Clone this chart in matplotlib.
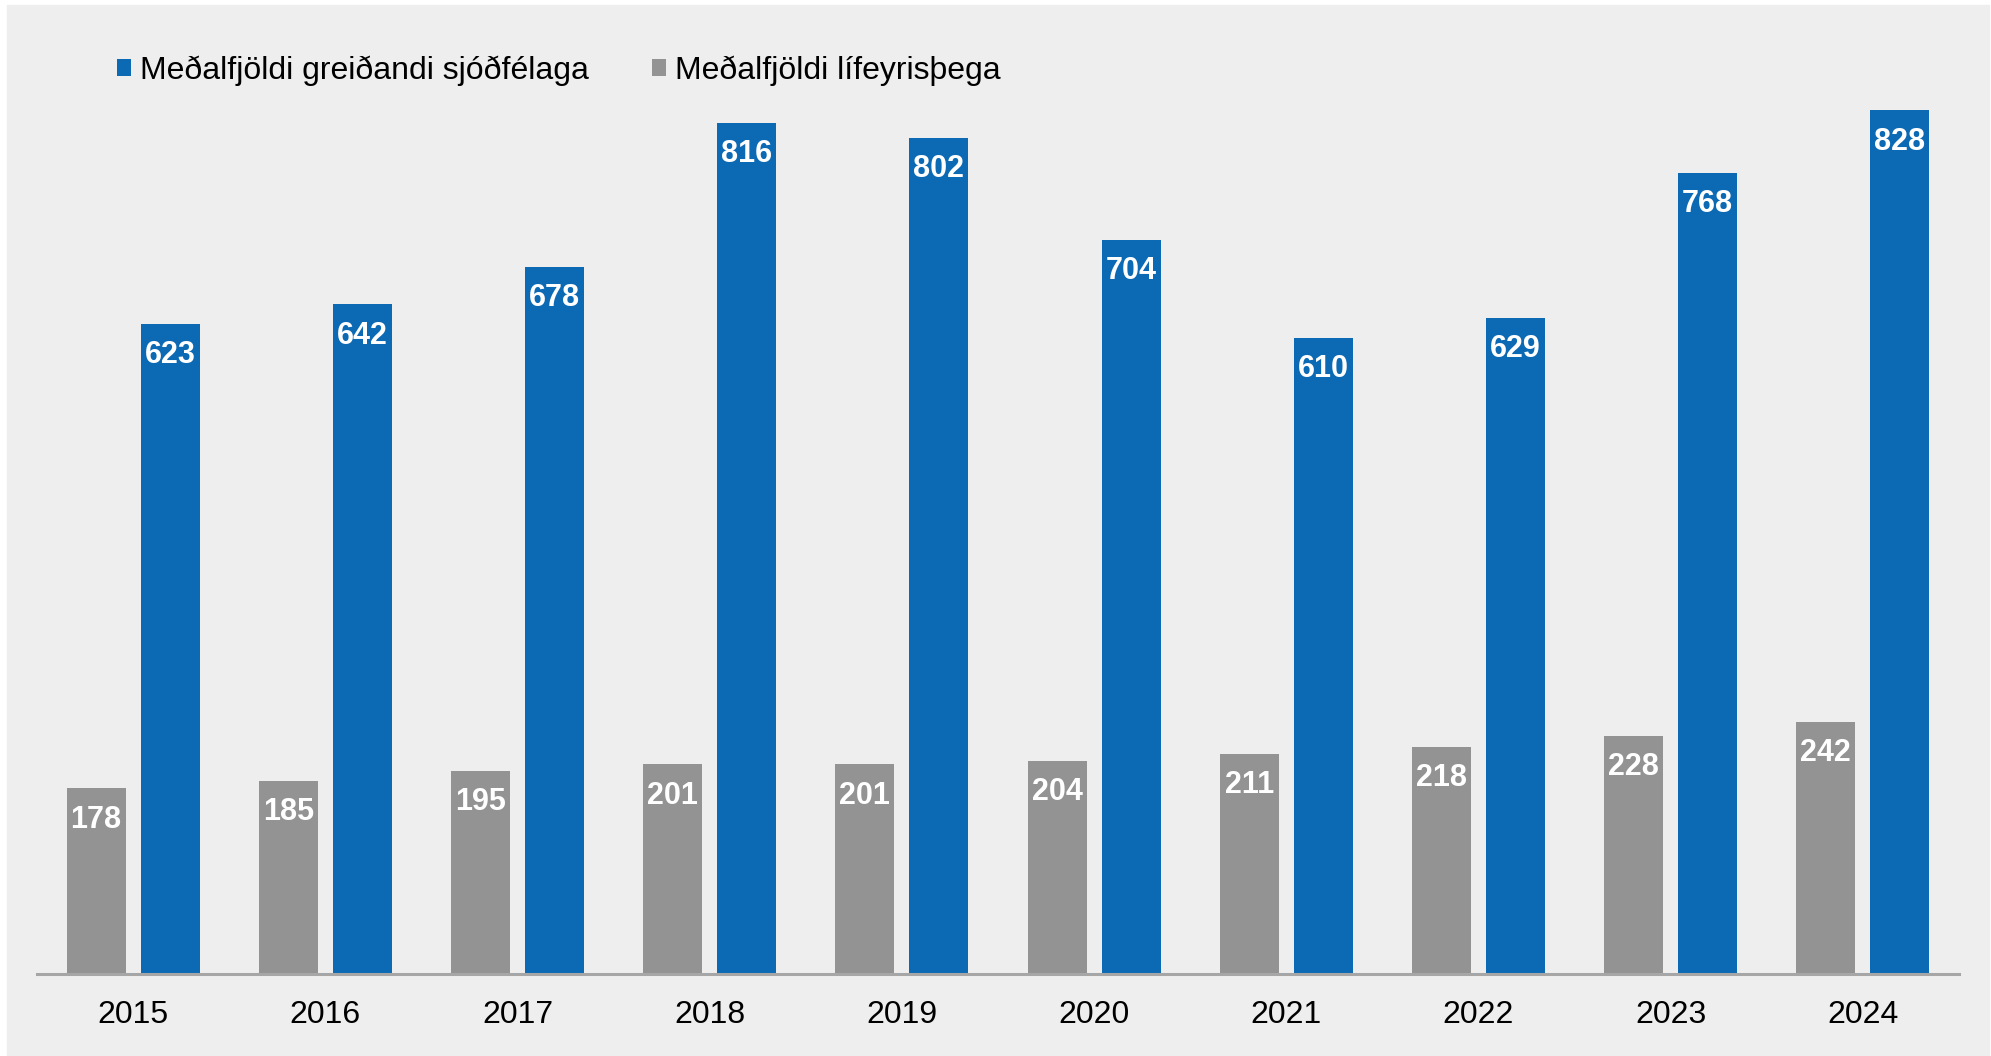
import matplotlib as mpl
import matplotlib.pyplot as plt
import numpy as np
from matplotlib.patches import Rectangle

# data
years = ['2015', '2016', '2017', '2018', '2019', '2020', '2021', '2022', '2023', '2024']
greidandi = [623, 642, 678, 816, 802, 704, 610, 629, 768, 828]
lifeyris = [178, 185, 195, 201, 201, 204, 211, 218, 228, 242]
names = ['Meðalfjöldi greiðandi sjóðfélaga', 'Meðalfjöldi lífeyrisþega']

blue = '#0C6AB4'
grey = '#939393'
bg = '#EEEEEE'

mpl.rcParams['font.family'] = ['Liberation Sans', 'DejaVu Sans']

W, H = 1991, 1056
fig = plt.figure(figsize=(W / 100, H / 100), dpi=100, facecolor='white')

# grey panel behind the chart
fig.patches.append(Rectangle((7 / W, 0), (1989 - 7) / W, (H - 5) / H,
                             transform=fig.transFigure, color=bg, zorder=-10))

# axes placed in pixel terms: baseline at y=974, 0..900 -> ~1.043 px per unit
base, top = 974, 974 - 900 * 1.043
ax = fig.add_axes([37 / W, (H - base) / H, (1959 - 37) / W, (base - top) / H])
ax.set_facecolor('none')

xs = np.arange(len(years))
width = 0.307
off = 0.193
r_grey = ax.bar(xs - off, lifeyris, width, color=grey, edgecolor='none', zorder=2)
r_blue = ax.bar(xs + off, greidandi, width, color=blue, edgecolor='none', zorder=2)

# value labels inside the top of each bar
for rects, vals in ((r_grey, lifeyris), (r_blue, greidandi)):
    for r, v in zip(rects, vals):
        ax.annotate(str(v), (r.get_x() + r.get_width() / 2, v),
                    xytext=(0, -22.5), textcoords='offset points',
                    ha='center', va='center', color='white',
                    fontsize=22, fontweight='bold', zorder=3)

ax.set_xlim(-0.5, len(years) - 0.5)
ax.set_ylim(0, 900)
ax.set_xticks(xs)
ax.set_xticklabels(years, fontsize=23)
ax.tick_params(axis='x', length=0, pad=19)
ax.set_yticks([])
for s in ('left', 'right', 'top'):
    ax.spines[s].set_visible(False)
ax.spines['bottom'].set_color('#A6A6A6')
ax.spines['bottom'].set_linewidth(2.2)
ax.spines['bottom'].set_zorder(4)

# legend across the top
fig.legend((r_blue[0], r_grey[0]), names, loc='center left',
           bbox_to_anchor=(117 / W, (H - 71) / H), ncol=2, frameon=False,
           fontsize=23, handlelength=0.43, handleheight=0.43,
           handletextpad=0.28, columnspacing=2.0,
           borderpad=0, borderaxespad=0)

fig.savefig('out.png', dpi=100, facecolor='white')
